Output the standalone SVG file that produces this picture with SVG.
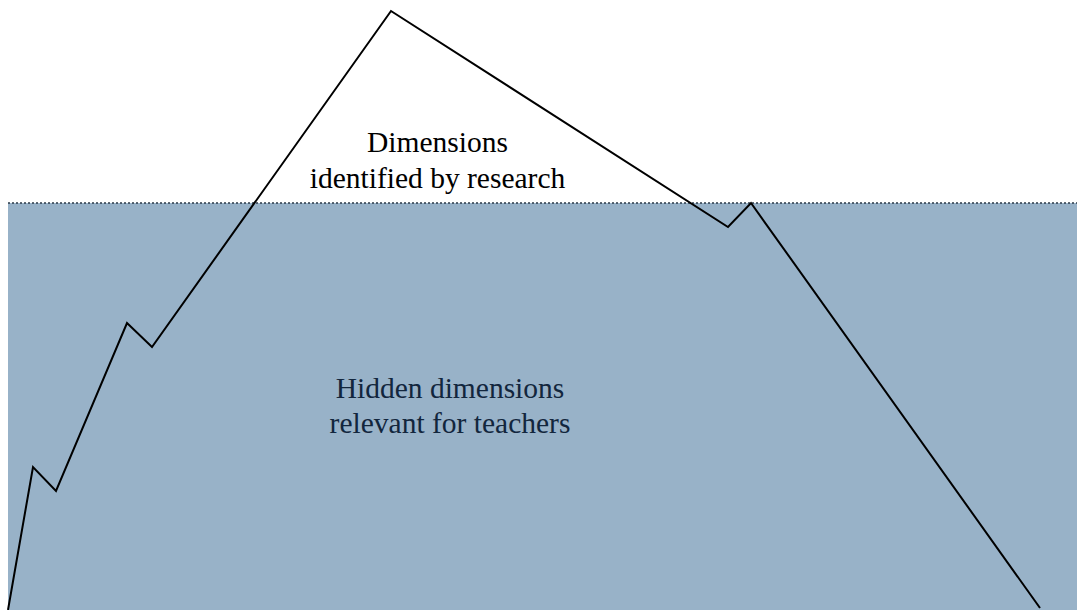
<svg xmlns="http://www.w3.org/2000/svg" width="1077" height="610" viewBox="0 0 1077 610">
<style>
.t{font-family:"Liberation Serif","Times New Roman",serif;font-size:29.5px;text-anchor:middle}
</style>
<rect width="1077" height="610" fill="#ffffff"/>
<g id="water">
<rect x="8" y="203" width="1069" height="407" fill="#98b2c8"/>
<line x1="8" y1="203" x2="1077" y2="203" stroke="#2a3a48" stroke-width="1.5" stroke-dasharray="2,2"/>
</g>
<g id="iceberg">
<polyline points="8,610 33,467 56,491 127,323 152,347 391,11 728,227 751,203 1040,608" fill="none" stroke="#000000" stroke-width="2" stroke-linejoin="miter"/>
</g>
<g id="label-research">
<text class="t" x="437.5" y="152" fill="#000000">Dimensions</text>
<text class="t" x="437.5" y="188" fill="#000000">identified by research</text>
</g>
<g id="label-hidden">
<text class="t" x="450" y="398" fill="#12263d">Hidden dimensions</text>
<text class="t" x="450" y="433" fill="#12263d">relevant for teachers</text>
</g>
</svg>
